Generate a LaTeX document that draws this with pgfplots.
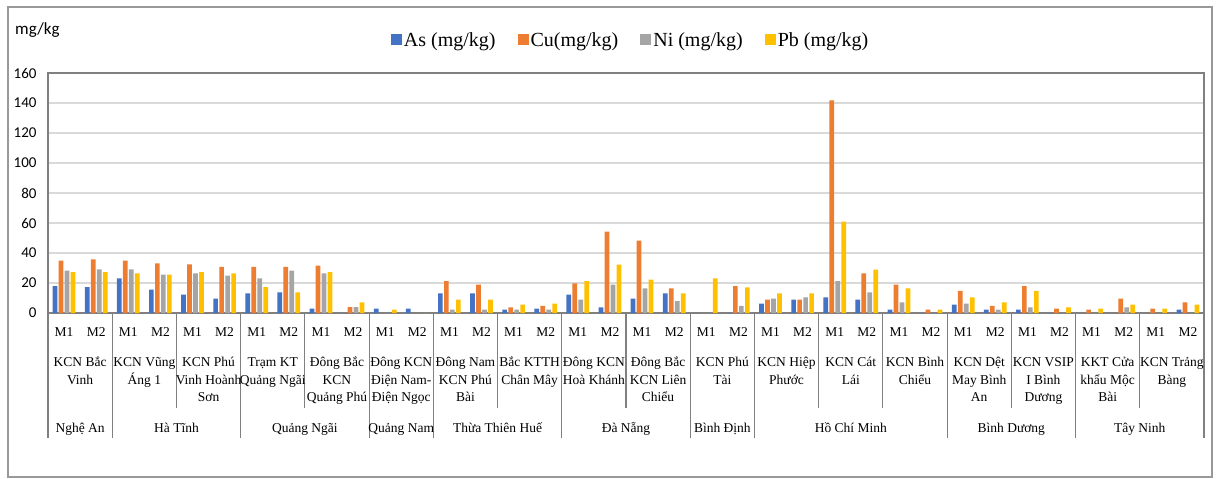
\documentclass[border=0pt]{standalone}
\usepackage{fontspec}
\setmainfont{Liberation Serif}
\newfontfamily\calibri{Carlito}
\usepackage{pgfplots}
\pgfplotsset{compat=1.18}
\usepackage{pgfplotstable}

\definecolor{cAs}{HTML}{4472C4}
\definecolor{cCu}{HTML}{ED7D31}
\definecolor{cNi}{HTML}{A5A5A5}
\definecolor{cPb}{HTML}{FFC000}

% x: 0..35 = (site, M1/M2)
\pgfplotstableread{
x   As    Cu     Ni    Pb
0   18.0  34.9   28.2  27.3
1   17.3  35.8   29.1  27.3
2   23.1  34.9   29.1  26.4
3   15.6  33.1   25.6  25.6
4   12.2  32.4   26.4  27.3
5   9.6   30.7   24.9  26.4
6   13.1  30.7   23.1  17.3
7   13.8  30.7   28.2  13.8
8   2.9   31.6   26.4  27.3
9   0     4.0    4.0   7.1
10  2.9   0      0     2.2
11  2.9   0      0     0
12  13.1  21.3   2.2   8.9
13  13.1  18.9   2.2   8.9
14  2.2   3.8    2.2   5.6
15  2.9   4.7    2.2   6.2
16  12.2  19.8   8.9   21.3
17  3.8   54.2   18.9  32.2
18  9.6   48.2   16.4  22.2
19  13.1  16.4   8.0   13.1
20  0     0      0     23.1
21  0     18.0   4.7   17.1
22  6.2   8.9    9.6   13.1
23  8.9   8.9    10.4  13.1
24  10.4  141.8  21.3  60.9
25  8.9   26.4   13.8  28.9
26  2.2   18.9   7.1   16.4
27  0     2.2    0     2.2
28  5.6   14.7   6.2   10.4
29  2.2   4.7    2.2   7.1
30  2.2   18.0   3.8   14.7
31  0     2.9    0     3.8
32  0     2.2    0     2.9
33  0     9.6    3.8   5.6
34  0     2.9    0     2.9
35  2.2   7.1    0     5.6
}\metals

\begin{document}
\begin{tikzpicture}
\begin{axis}[
  name=ax,
  scale only axis,
  width=1156pt, height=240pt,
  xmin=-0.5, xmax=35.5,
  ymin=0, ymax=160,
  ytick={0,20,...,160},
  xtick={0,...,35},
  xticklabels={M1,M2,M1,M2,M1,M2,M1,M2,M1,M2,M1,M2,M1,M2,M1,M2,M1,M2,
               M1,M2,M1,M2,M1,M2,M1,M2,M1,M2,M1,M2,M1,M2,M1,M2,M1,M2},
  major tick length=0,
  ymajorgrids,
  grid style={color=black!15, line width=1.2pt},
  axis line style={black!50, line width=1.2pt},
  ybar=1.3pt, bar width=4.7pt,
  clip=false,
  /pgf/number format/assume math mode=true,
  yticklabel style={font=\calibri\fontsize{15}{18}\selectfont, xshift=-8pt},
  xticklabel style={font=\fontsize{13.5}{16}\selectfont, anchor=center, yshift=-19pt},
  legend style={at={(0.504,1.1375)}, anchor=center, draw=none,
    font=\fontsize{20}{24}\selectfont, legend columns=4,
    /tikz/every even column/.append style={column sep=20pt}},
  legend image code/.code={\fill[#1] (0pt,-5.5pt) rectangle (11pt,5.5pt);},
]
\addplot[fill=cAs, draw=none] table[x=x, y=As] {\metals};
\addplot[fill=cCu, draw=none] table[x=x, y=Cu] {\metals};
\addplot[fill=cNi, draw=none] table[x=x, y=Ni] {\metals};
\addplot[fill=cPb, draw=none] table[x=x, y=Pb] {\metals};
\addlegendentry{As (mg/kg)}
\addlegendentry{Cu(mg/kg)}
\addlegendentry{Ni (mg/kg)}
\addlegendentry{Pb (mg/kg)}

% separators under the axis
\pgfplotsinvokeforeach{-0.5,1.5,5.5,9.5,11.5,15.5,19.5,21.5,27.5,31.5,35.5}{
  \draw[black!50, line width=1.2pt] (axis cs:#1,0) -- ([yshift=-125pt]axis cs:#1,0);
}
\pgfplotsinvokeforeach{3.5,7.5,13.5,17.5,23.5,25.5,29.5,33.5}{
  \draw[black!50, line width=1.2pt] (axis cs:#1,0) -- ([yshift=-95pt]axis cs:#1,0);
}

% site names
\tikzset{site/.style={anchor=north, align=center, inner sep=0pt,
  font=\fontsize{13.5}{17.7}\selectfont, yshift=-41pt}}
\node[site] at (axis cs:0.5,0)  {\strut KCN Bắc\\Vinh};
\node[site] at (axis cs:2.5,0)  {\strut KCN Vũng\\Áng 1};
\node[site] at (axis cs:4.5,0)  {\strut KCN Phú\\Vinh Hoành\\Sơn};
\node[site] at (axis cs:6.5,0)  {\strut Trạm KT\\Quảng Ngãi};
\node[site] at (axis cs:8.5,0)  {\strut Đông Bắc\\KCN\\Quảng Phú};
\node[site] at (axis cs:10.5,0) {\strut Đông KCN\\Điện Nam-\\Điện Ngọc};
\node[site] at (axis cs:12.5,0) {\strut Đông Nam\\KCN Phú\\Bài};
\node[site] at (axis cs:14.5,0) {\strut Bắc KTTH\\Chân Mây};
\node[site] at (axis cs:16.5,0) {\strut Đông KCN\\Hoà Khánh};
\node[site] at (axis cs:18.5,0) {\strut Đông Bắc\\KCN Liên\\Chiểu};
\node[site] at (axis cs:20.5,0) {\strut KCN Phú\\Tài};
\node[site] at (axis cs:22.5,0) {\strut KCN Hiệp\\Phước};
\node[site] at (axis cs:24.5,0) {\strut KCN Cát\\Lái};
\node[site] at (axis cs:26.5,0) {\strut KCN Bình\\Chiểu};
\node[site] at (axis cs:28.5,0) {\strut KCN Dệt\\May Bình\\An};
\node[site] at (axis cs:30.5,0) {\strut KCN VSIP\\I Bình\\Dương};
\node[site] at (axis cs:32.5,0) {\strut KKT Cửa\\khẩu Mộc\\Bài};
\node[site] at (axis cs:34.5,0) {\strut KCN Trảng\\Bàng};

% provinces
\tikzset{prov/.style={anchor=base, inner sep=0pt,
  font=\fontsize{13.5}{16}\selectfont, yshift=-119.5pt}}
\node[prov] at (axis cs:0.5,0)  {Nghệ An};
\node[prov] at (axis cs:3.5,0)  {Hà Tĩnh};
\node[prov] at (axis cs:7.5,0)  {Quảng Ngãi};
\node[prov] at (axis cs:10.5,0) {Quảng Nam};
\node[prov] at (axis cs:13.5,0) {Thừa Thiên Huế};
\node[prov] at (axis cs:17.5,0) {Đà Nẵng};
\node[prov] at (axis cs:20.5,0) {Bình Định};
\node[prov] at (axis cs:24.5,0) {Hồ Chí Minh};
\node[prov] at (axis cs:29.5,0) {Bình Dương};
\node[prov] at (axis cs:33.5,0) {Tây Ninh};
\end{axis}

\path ([shift={(-48pt,-166pt)}]ax.south west) rectangle ([shift={(1170pt,313pt)}]ax.south west);
\draw[black!40, line width=1.5pt] ([shift={(-40pt,-164pt)}]ax.south west) rectangle ([shift={(1164pt,306pt)}]ax.south west);
\node[anchor=west, inner sep=0pt, font=\calibri\fontsize{17}{20}\selectfont]
  at ([shift={(-33pt,283pt)}]ax.south west) {mg/kg};
\end{tikzpicture}
\end{document}
